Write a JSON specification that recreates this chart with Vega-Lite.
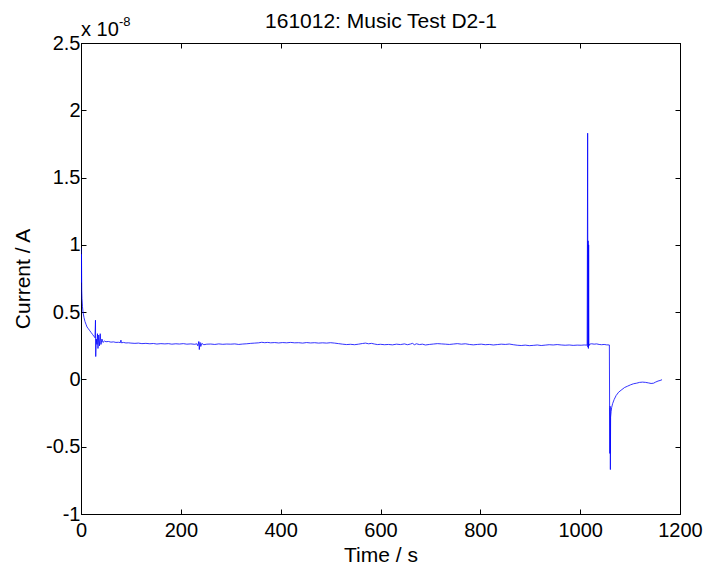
{
  "$schema": "https://vega.github.io/schema/vega-lite/v6.json",
  "autosize": "none",
  "width": 599,
  "height": 471,
  "padding": {"left": 81, "top": 43, "right": 26, "bottom": 55},
  "background": "white",
  "config": {
    "view": {"stroke": "#000", "strokeWidth": 1},
    "axis": {"domainColor": "#000", "tickColor": "#000", "labelColor": "#000", "titleColor": "#000", "labelFont": "Liberation Sans", "titleFont": "Liberation Sans", "labelFontSize": 20, "titleFontSize": 21, "titleFontWeight": "normal", "grid": false, "tickSize": -5, "labelPadding": 7}
  },
  "datasets": {
    "trace": [
      {"t":0,"c":0.98},{"t":0.5,"c":0.72},{"t":1,"c":0.93},{"t":1.5,"c":0.66},{"t":2,"c":0.6},{"t":3,"c":0.54},{"t":4,"c":0.5},{"t":6,"c":0.46},{"t":8,"c":0.43},{"t":10,"c":0.41},{"t":12,"c":0.39},{"t":14,"c":0.38},{"t":17,"c":0.365},{"t":20,"c":0.35},{"t":23,"c":0.335},{"t":26,"c":0.32},{"t":28,"c":0.31},{"t":29,"c":0.44},{"t":29.5,"c":0.17},{"t":30.5,"c":0.3},{"t":32,"c":0.26},{"t":33,"c":0.34},{"t":34,"c":0.23},{"t":35.5,"c":0.33},{"t":37,"c":0.25},{"t":38.5,"c":0.34},{"t":40,"c":0.26},{"t":42,"c":0.3},{"t":44,"c":0.275},{"t":47,"c":0.285},{"t":50,"c":0.28},{"t":55,"c":0.282},{"t":60,"c":0.277},{"t":65,"c":0.279},{"t":70,"c":0.275},{"t":75,"c":0.276},{"t":79,"c":0.274},{"t":80,"c":0.292},{"t":81,"c":0.272},{"t":85,"c":0.275},{"t":90,"c":0.271},{"t":95,"c":0.272},{"t":100,"c":0.27},{"t":108,"c":0.268},{"t":115,"c":0.27},{"t":122,"c":0.266},{"t":130,"c":0.268},{"t":138,"c":0.265},{"t":145,"c":0.267},{"t":152,"c":0.263},{"t":160,"c":0.266},{"t":168,"c":0.264},{"t":175,"c":0.266},{"t":182,"c":0.262},{"t":190,"c":0.265},{"t":197,"c":0.263},{"t":205,"c":0.266},{"t":212,"c":0.262},{"t":220,"c":0.264},{"t":228,"c":0.261},{"t":232,"c":0.265},{"t":234,"c":0.25},{"t":236,"c":0.282},{"t":237,"c":0.222},{"t":238.5,"c":0.275},{"t":240,"c":0.245},{"t":242,"c":0.268},{"t":246,"c":0.258},{"t":252,"c":0.262},{"t":260,"c":0.263},{"t":268,"c":0.26},{"t":276,"c":0.264},{"t":284,"c":0.261},{"t":292,"c":0.263},{"t":300,"c":0.262},{"t":308,"c":0.264},{"t":316,"c":0.26},{"t":324,"c":0.263},{"t":332,"c":0.265},{"t":340,"c":0.268},{"t":348,"c":0.27},{"t":356,"c":0.272},{"t":362,"c":0.276},{"t":368,"c":0.273},{"t":374,"c":0.275},{"t":380,"c":0.272},{"t":388,"c":0.274},{"t":396,"c":0.271},{"t":404,"c":0.274},{"t":412,"c":0.272},{"t":420,"c":0.275},{"t":428,"c":0.272},{"t":436,"c":0.273},{"t":444,"c":0.27},{"t":452,"c":0.274},{"t":460,"c":0.271},{"t":468,"c":0.273},{"t":476,"c":0.27},{"t":484,"c":0.272},{"t":492,"c":0.27},{"t":500,"c":0.273},{"t":508,"c":0.27},{"t":516,"c":0.266},{"t":524,"c":0.262},{"t":532,"c":0.259},{"t":540,"c":0.261},{"t":548,"c":0.258},{"t":556,"c":0.262},{"t":564,"c":0.267},{"t":570,"c":0.27},{"t":576,"c":0.265},{"t":582,"c":0.268},{"t":588,"c":0.263},{"t":594,"c":0.259},{"t":600,"c":0.261},{"t":608,"c":0.258},{"t":616,"c":0.26},{"t":624,"c":0.257},{"t":632,"c":0.262},{"t":640,"c":0.259},{"t":648,"c":0.264},{"t":654,"c":0.258},{"t":660,"c":0.263},{"t":664,"c":0.268},{"t":668,"c":0.258},{"t":672,"c":0.265},{"t":678,"c":0.259},{"t":684,"c":0.262},{"t":690,"c":0.256},{"t":698,"c":0.26},{"t":706,"c":0.263},{"t":714,"c":0.266},{"t":722,"c":0.264},{"t":730,"c":0.262},{"t":738,"c":0.26},{"t":746,"c":0.263},{"t":754,"c":0.266},{"t":762,"c":0.262},{"t":770,"c":0.265},{"t":778,"c":0.26},{"t":786,"c":0.257},{"t":794,"c":0.26},{"t":802,"c":0.262},{"t":810,"c":0.258},{"t":818,"c":0.26},{"t":826,"c":0.256},{"t":834,"c":0.259},{"t":842,"c":0.262},{"t":850,"c":0.26},{"t":858,"c":0.263},{"t":866,"c":0.258},{"t":874,"c":0.254},{"t":882,"c":0.252},{"t":890,"c":0.255},{"t":898,"c":0.251},{"t":906,"c":0.253},{"t":914,"c":0.256},{"t":922,"c":0.252},{"t":930,"c":0.255},{"t":938,"c":0.258},{"t":946,"c":0.256},{"t":954,"c":0.259},{"t":962,"c":0.256},{"t":970,"c":0.254},{"t":978,"c":0.256},{"t":986,"c":0.253},{"t":994,"c":0.255},{"t":1002,"c":0.254},{"t":1008,"c":0.256},{"t":1014,"c":0.255},{"t":1015,"c":1.83},{"t":1015.5,"c":0.24},{"t":1016,"c":1.03},{"t":1016.5,"c":0.23},{"t":1017,"c":1.0},{"t":1017.5,"c":0.25},{"t":1019,"c":0.262},{"t":1023,"c":0.265},{"t":1028,"c":0.262},{"t":1033,"c":0.264},{"t":1038,"c":0.26},{"t":1043,"c":0.258},{"t":1048,"c":0.26},{"t":1053,"c":0.257},{"t":1058.5,"c":0.256},{"t":1059,"c":-0.21},{"t":1059.5,"c":-0.55},{"t":1060,"c":-0.2},{"t":1060.5,"c":-0.67},{"t":1061,"c":-0.28},{"t":1062,"c":-0.24},{"t":1063,"c":-0.21},{"t":1065,"c":-0.18},{"t":1068,"c":-0.15},{"t":1072,"c":-0.12},{"t":1077,"c":-0.095},{"t":1082,"c":-0.08},{"t":1089,"c":-0.06},{"t":1095,"c":-0.05},{"t":1101,"c":-0.04},{"t":1107,"c":-0.032},{"t":1113,"c":-0.028},{"t":1119,"c":-0.022},{"t":1125,"c":-0.02},{"t":1131,"c":-0.022},{"t":1137,"c":-0.026},{"t":1142,"c":-0.03},{"t":1147,"c":-0.028},{"t":1151,"c":-0.02},{"t":1156,"c":-0.012},{"t":1160,"c":-0.008},{"t":1164,"c":-0.002}
    ],
    "anchor": [{"t": 0, "c": 2.5}]
  },
  "layer": [
    {
      "data": {"name": "trace"},
      "mark": {"type": "line", "color": "#0000ff", "strokeWidth": 0.8, "clip": true},
      "encoding": {
        "x": {"field": "t", "type": "quantitative", "scale": {"domain": [0, 1200], "nice": false, "zero": false},
              "axis": {"orient": "bottom", "values": [0,200,400,600,800,1000,1200], "labelExpr": "'' + datum.value", "labelPadding": 11, "title": "Time / s", "titlePadding": 4, "labelFlush": false, "labelOverlap": false}},
        "y": {"field": "c", "type": "quantitative", "scale": {"domain": [-1, 2.5], "nice": false, "zero": false},
              "axis": {"orient": "left", "values": [-1,-0.5,0,0.5,1,1.5,2,2.5], "labelExpr": "'' + datum.value", "title": "Current / A", "titlePadding": 12, "labelPadding": 6, "labelFlush": false, "labelOverlap": false}}
      }
    },
    {
      "data": {"name": "anchor"},
      "mark": {"type": "text", "text": "x 10", "align": "left", "baseline": "alphabetic", "dx": 0, "dy": -7, "fontSize": 20, "font": "Liberation Sans", "color": "#000"},
      "encoding": {
        "x": {"field": "t", "type": "quantitative", "axis": {"orient": "top", "values": [0,200,400,600,800,1000,1200], "labels": false, "title": "161012: Music Test D2-1", "titlePadding": 11}},
        "y": {"field": "c", "type": "quantitative", "axis": {"orient": "right", "values": [-1,-0.5,0,0.5,1,1.5,2,2.5], "labels": false, "title": null}}
      }
    },
    {
      "data": {"name": "anchor"},
      "mark": {"type": "text", "text": "-8", "align": "left", "baseline": "alphabetic", "dx": 38, "dy": -17, "fontSize": 13, "font": "Liberation Sans", "color": "#000"},
      "encoding": {
        "x": {"field": "t", "type": "quantitative", "axis": null},
        "y": {"field": "c", "type": "quantitative", "axis": null}
      }
    }
  ],
  "resolve": {"axis": {"x": "independent", "y": "independent"}}
}
